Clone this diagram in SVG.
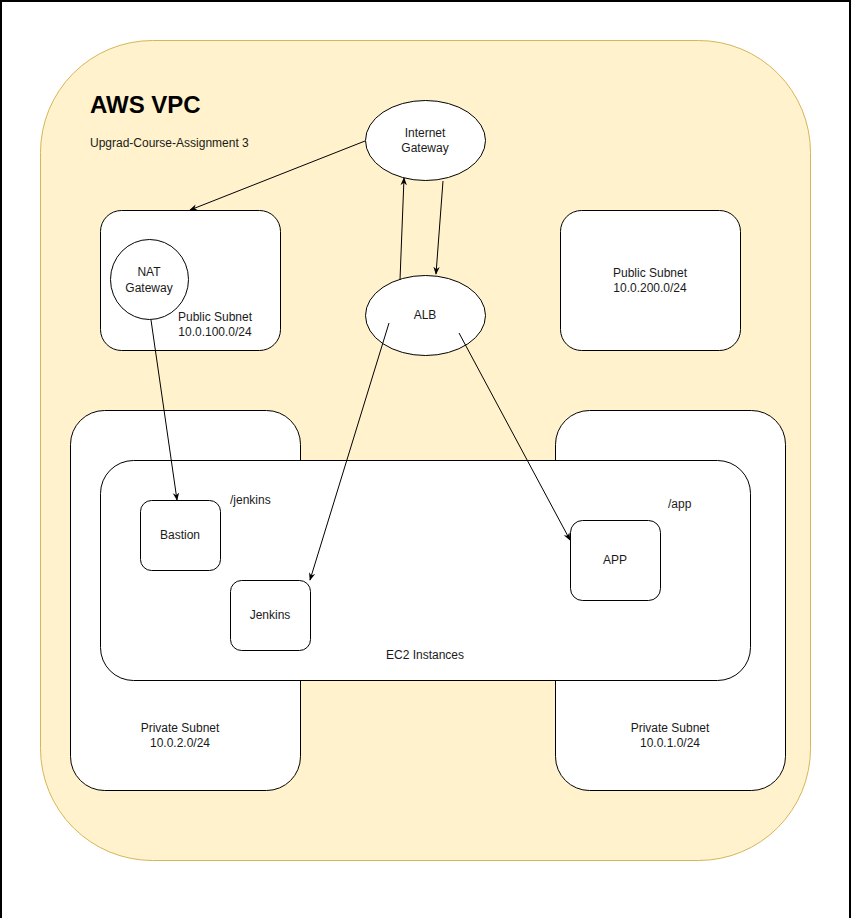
<svg xmlns="http://www.w3.org/2000/svg" width="851" height="918" viewBox="0 0 851 918">
<style>
.box{fill:#fff;stroke:#000;stroke-width:1}
.t{font-family:"Liberation Sans",Arial,sans-serif;font-size:12px;fill:#1a1a1a}
.c{text-anchor:middle}
.edge{stroke:#000;stroke-width:1;fill:none;marker-end:url(#arr)}
</style>
<defs>
<marker id="arr" viewBox="0 0 10 10" refX="9" refY="5" markerWidth="8" markerHeight="8" markerUnits="userSpaceOnUse" orient="auto">
<path d="M0,1 L10,5 L0,9 L3,5 Z" fill="#000"/>
</marker>
</defs>
<rect x="0" y="0" width="851" height="918" fill="#fff"/>
<path d="M1,918 V1 H850 V918" fill="none" stroke="#000" stroke-width="2"/>
<g id="vpc">
<rect x="40.5" y="40.5" width="770" height="820" rx="112" ry="112" fill="#fff2cc" stroke="#d6b656"/>
<text x="90" y="113" font-family="Liberation Sans,Arial,sans-serif" font-size="24" font-weight="bold" fill="#000">AWS VPC</text>
<text class="t" x="90" y="147">Upgrad-Course-Assignment 3</text>
</g>
<g id="public-subnet-1">
<rect class="box" x="100.5" y="210.5" width="180" height="140" rx="21"/>
<text class="t c" x="215" y="321">Public Subnet</text>
<text class="t c" x="215" y="336">10.0.100.0/24</text>
</g>
<g id="public-subnet-2">
<rect class="box" x="560.5" y="210.5" width="180" height="140" rx="21"/>
<text class="t c" x="650" y="277">Public Subnet</text>
<text class="t c" x="650" y="292">10.0.200.0/24</text>
</g>
<g id="private-subnet-1">
<rect class="box" x="70.5" y="410.5" width="230" height="380" rx="34"/>
<text class="t c" x="180" y="732">Private Subnet</text>
<text class="t c" x="180" y="747">10.0.2.0/24</text>
</g>
<g id="private-subnet-2">
<rect class="box" x="555.5" y="410.5" width="230" height="380" rx="34"/>
<text class="t c" x="670" y="732">Private Subnet</text>
<text class="t c" x="670" y="747">10.0.1.0/24</text>
</g>
<g id="ec2-instances">
<rect class="box" x="100.5" y="460.5" width="650" height="220" rx="33"/>
<text class="t c" x="425" y="659">EC2 Instances</text>
<text class="t" x="230" y="504">/jenkins</text>
<text class="t" x="668" y="508">/app</text>
</g>
<g id="internet-gateway">
<ellipse class="box" cx="425.5" cy="140.5" rx="60" ry="40"/>
<text class="t c" x="425" y="137">Internet</text>
<text class="t c" x="425" y="152">Gateway</text>
</g>
<g id="alb">
<ellipse class="box" cx="425.5" cy="315.5" rx="60" ry="40"/>
<text class="t c" x="425" y="319">ALB</text>
</g>
<g id="nat-gateway">
<ellipse class="box" cx="149.5" cy="279.5" rx="39" ry="40"/>
<text class="t c" x="149" y="276">NAT</text>
<text class="t c" x="149" y="292">Gateway</text>
</g>
<g id="bastion">
<rect class="box" x="140.5" y="500.5" width="80" height="70" rx="11"/>
<text class="t c" x="180" y="539">Bastion</text>
</g>
<g id="jenkins">
<rect class="box" x="230.5" y="580.5" width="80" height="70" rx="11"/>
<text class="t c" x="270" y="619">Jenkins</text>
</g>
<g id="app">
<rect class="box" x="570.5" y="520.5" width="90" height="80" rx="12"/>
<text class="t c" x="615" y="564">APP</text>
</g>
<g id="connectors">
<line class="edge" x1="365" y1="141" x2="190" y2="210"/>
<line class="edge" x1="400" y1="280" x2="404" y2="178"/>
<line class="edge" x1="443" y1="181" x2="436" y2="274"/>
<line class="edge" x1="151" y1="320" x2="177" y2="500"/>
<line class="edge" x1="389" y1="323" x2="310" y2="580"/>
<line class="edge" x1="459" y1="333" x2="570" y2="540"/>
</g>
</svg>
